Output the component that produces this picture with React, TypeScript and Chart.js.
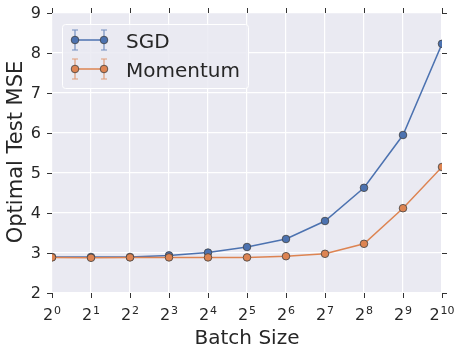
import React, { useEffect, useRef } from "react";
import { Chart, registerables } from "chart.js";

Chart.register(...registerables);

const batchSizes = [1, 2, 4, 8, 16, 32, 64, 128, 256, 512, 1024];
const exponentLabels = ["0", "1", "2", "3", "4", "5", "6", "7", "8", "9", "10"];
const sgdMse = [2.9, 2.9, 2.9, 2.94, 3.01, 3.15, 3.35, 3.8, 4.63, 5.95, 8.23];
const momentumMse = [2.89, 2.88, 2.89, 2.89, 2.89, 2.89, 2.92, 2.98, 3.23, 4.12, 5.15];
const yTickValues = [2, 3, 4, 5, 6, 7, 8, 9];
const seriesNames = ["SGD", "Momentum"];
const seriesColors = ["#4c72b0", "#dd8452"];
const xTitle = "Batch Size";
const yTitle = "Optimal Test MSE";

const FONT = "'DejaVu Sans', sans-serif";
const TEXT = "#262626";

const decorPlugin = {
  id: "decor",
  beforeDraw(chart: any) {
    const { ctx, chartArea } = chart;
    ctx.save();
    ctx.fillStyle = "#ffffff";
    ctx.fillRect(0, 0, chart.width, chart.height);
    ctx.fillStyle = "#eaeaf2";
    ctx.fillRect(chartArea.left, chartArea.top, chartArea.right - chartArea.left, chartArea.bottom - chartArea.top);
    ctx.restore();
  },
  afterDraw(chart: any) {
    const { ctx, chartArea } = chart;
    const { left, right, top, bottom } = chartArea;
    const xs = chart.scales.x;
    const ys = chart.scales.y;
    ctx.save();
    // tick marks
    ctx.strokeStyle = "#333333";
    ctx.lineWidth = 1;
    const tl = 5;
    ctx.beginPath();
    yTickValues.forEach((v) => {
      const y = Math.round(ys.getPixelForValue(v)) + 0.5;
      ctx.moveTo(left - tl, y);
      ctx.lineTo(left, y);
      ctx.moveTo(right, y);
      ctx.lineTo(right + tl, y);
    });
    batchSizes.forEach((v) => {
      const x = Math.round(xs.getPixelForValue(v)) + 0.5;
      ctx.moveTo(x, top - tl);
      ctx.lineTo(x, top);
      ctx.moveTo(x, bottom);
      ctx.lineTo(x, bottom + tl);
    });
    ctx.stroke();

    // y tick labels
    ctx.fillStyle = TEXT;
    ctx.font = `16px ${FONT}`;
    ctx.textAlign = "right";
    ctx.textBaseline = "middle";
    yTickValues.forEach((v) => {
      ctx.fillText(String(v), left - 11, ys.getPixelForValue(v) + 1);
    });

    // x tick labels with superscripts
    ctx.textBaseline = "alphabetic";
    ctx.textAlign = "left";
    batchSizes.forEach((v, i) => {
      const x = xs.getPixelForValue(v);
      ctx.font = `16px ${FONT}`;
      const bw = ctx.measureText("2").width;
      ctx.font = `11px ${FONT}`;
      const ew = ctx.measureText(exponentLabels[i]).width;
      const start = x - (bw + ew + 1) / 2;
      ctx.font = `16px ${FONT}`;
      ctx.fillText("2", start, 320);
      ctx.font = `11px ${FONT}`;
      ctx.fillText(exponentLabels[i], start + bw + 1, 314);
    });

    // axis titles
    ctx.font = `20px ${FONT}`;
    ctx.textAlign = "center";
    ctx.fillText(xTitle, (left + right) / 2, 344);
    ctx.save();
    ctx.font = `21px ${FONT}`;
    ctx.translate(22, 152);
    ctx.rotate(-Math.PI / 2);
    ctx.textBaseline = "alphabetic";
    ctx.fillText(yTitle, 0, 0);
    ctx.restore();

    // legend
    const lx = 62, ly = 24, lw = 186, lh = 64;
    ctx.fillStyle = "rgba(234,234,242,0.85)";
    ctx.strokeStyle = "#ffffff";
    ctx.lineWidth = 1;
    ctx.beginPath();
    if ((ctx as any).roundRect) (ctx as any).roundRect(lx + 0.5, ly + 0.5, lw, lh, 3);
    else ctx.rect(lx + 0.5, ly + 0.5, lw, lh);
    ctx.fill();
    ctx.stroke();
    const rows = [40, 69];
    seriesNames.forEach((name, i) => {
      const y = rows[i];
      const c = seriesColors[i];
      ctx.strokeStyle = c;
      ctx.lineWidth = 1.5;
      ctx.beginPath();
      ctx.moveTo(75, y);
      ctx.lineTo(104, y);
      ctx.stroke();
      ctx.globalAlpha = 0.75;
      ctx.lineWidth = 1.2;
      [75, 104].forEach((px) => {
        ctx.beginPath();
        ctx.moveTo(px, y - 10);
        ctx.lineTo(px, y + 10);
        ctx.moveTo(px - 3, y - 10);
        ctx.lineTo(px + 3, y - 10);
        ctx.moveTo(px - 3, y + 10);
        ctx.lineTo(px + 3, y + 10);
        ctx.stroke();
      });
      ctx.globalAlpha = 1;
      [75, 104].forEach((px) => {
        ctx.beginPath();
        ctx.arc(px, y, 3.8, 0, Math.PI * 2);
        ctx.fillStyle = c;
        ctx.fill();
        ctx.strokeStyle = "#404040";
        ctx.lineWidth = 0.8;
        ctx.stroke();
      });
      ctx.fillStyle = TEXT;
      ctx.font = `20px ${FONT}`;
      ctx.textAlign = "left";
      ctx.textBaseline = "alphabetic";
      ctx.fillText(name, 126, y + 8);
    });
    ctx.restore();
  },
};

export default function App() {
  const ref = useRef<HTMLCanvasElement | null>(null);
  useEffect(() => {
    if (!ref.current) return;
    const mkData = (vals: number[]) => batchSizes.map((b, i) => ({ x: b, y: vals[i] }));
    const chart = new Chart(ref.current, {
      type: "line",
      data: {
        datasets: [
          {
            label: seriesNames[0],
            data: mkData(sgdMse),
            borderColor: seriesColors[0],
            backgroundColor: seriesColors[0],
            pointBackgroundColor: seriesColors[0],
            pointBorderColor: "#404040",
            pointBorderWidth: 0.8,
            pointRadius: 3.8,
            borderWidth: 1.5,
            tension: 0,
            clip: 0,
            order: 2,
          } as any,
          {
            label: seriesNames[1],
            data: mkData(momentumMse),
            borderColor: seriesColors[1],
            backgroundColor: seriesColors[1],
            pointBackgroundColor: seriesColors[1],
            pointBorderColor: "#404040",
            pointBorderWidth: 0.8,
            pointRadius: 3.8,
            borderWidth: 1.5,
            tension: 0,
            clip: 0,
            order: 1,
          } as any,
        ],
      },
      options: {
        responsive: false,
        animation: false,
        devicePixelRatio: 1,
        layout: { padding: { left: 52, right: 20, top: 13, bottom: 61 } },
        plugins: { legend: { display: false }, tooltip: { enabled: false } },
        scales: {
          x: {
            type: "logarithmic",
            min: 1,
            max: 1024,
            afterBuildTicks: (scale: any) => {
              scale.ticks = batchSizes.map((v) => ({ value: v }));
            },
            ticks: { display: false },
            border: { display: false },
            grid: { color: "#ffffff", lineWidth: 1.2, drawTicks: false },
          },
          y: {
            type: "linear",
            min: 2,
            max: 9,
            afterBuildTicks: (scale: any) => {
              scale.ticks = yTickValues.map((v) => ({ value: v }));
            },
            ticks: { display: false },
            border: { display: false },
            grid: { color: "#ffffff", lineWidth: 1.2, drawTicks: false },
          },
        },
      } as any,
      plugins: [decorPlugin],
    });
    return () => chart.destroy();
  }, []);
  return (
    <div style={{ position: "fixed", left: 0, top: 0, width: 462, height: 354 }}>
      <canvas ref={ref} width={462} height={354} style={{ display: "block" }} />
    </div>
  );
}
